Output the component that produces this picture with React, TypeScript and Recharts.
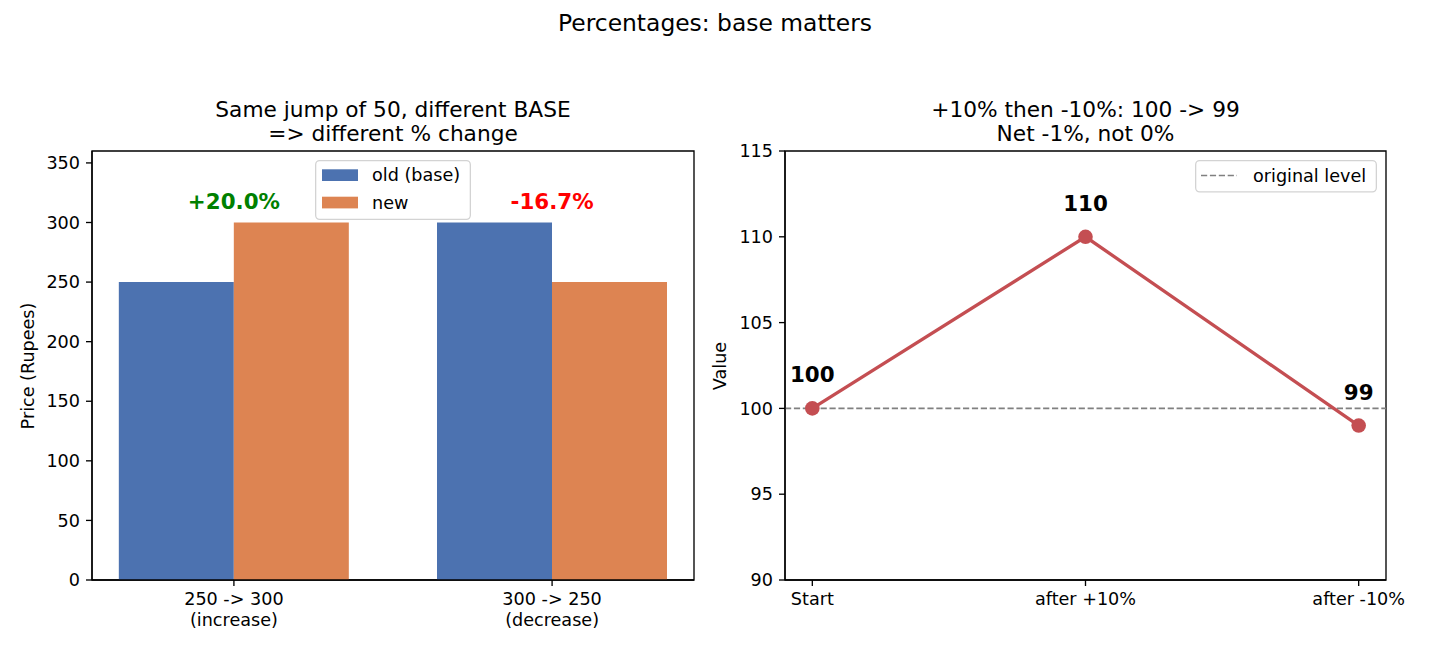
import React from 'react';
import {
  ComposedChart,
  Bar,
  Line,
  XAxis,
  YAxis,
  Legend,
  ReferenceDot,
  ReferenceLine,
  ReferenceArea,
  LabelList,
} from 'recharts';

const FONT = "'DejaVu Sans', 'Liberation Sans', sans-serif";

// ---- Left panel: same jump of 50 on two different bases ----
const pairLabels = [
  ['250 -> 300', '(increase)'],
  ['300 -> 250', '(decrease)'],
];
const oldPrices = [250, 300];
const newPrices = [300, 250];
const priceTicks = [0, 50, 100, 150, 200, 250, 300, 350];

// ---- Right panel: +10% followed by -10% ----
const stepLabels = ['Start', 'after +10%', 'after -10%'];
const stepValues = [100, 110, 99];
const originalLevel = 100;
const valueTicks = [90, 95, 100, 105, 110, 115];

const BLUE = '#4C72B0';
const ORANGE = '#DD8452';
const RED = '#C44E52';

const TICK_FONT = 17.6;
const AXIS_STROKE = 1.33;

const barData = oldPrices.map((o, i) => ({ x: i, old: o, new: newPrices[i] }));
const stepData = stepValues.map((v, i) => ({ x: i, value: v }));

const pctLabel = (o: number, n: number) => {
  const p = ((n - o) / o) * 100;
  return `${p >= 0 ? '+' : ''}${p.toFixed(1)}%`;
};

// Multi-line category tick, text centred under the tick mark
const MultiTick = (props: any) => {
  const { x, y, payload, lines } = props;
  const rows: string[] = lines[payload.value] ?? [];
  return (
    <text
      x={x}
      y={y}
      textAnchor="middle"
      fill="#000"
      fontSize={TICK_FONT}
      fontFamily={FONT}
    >
      {rows.map((r, i) => (
        <tspan key={i} x={x} y={y + 13.5 + i * 20.5}>
          {r}
        </tspan>
      ))}
    </text>
  );
};

const BarLegend = () => (
  <svg width={156} height={60} style={{ display: 'block' }}>
    <rect
      x={0.65}
      y={0.65}
      width={154.7}
      height={58.7}
      rx={4}
      fill="rgba(255,255,255,0.8)"
      stroke="#d3d3d3"
      strokeWidth={1.3}
    />
    <rect x={7} y={9.3} width={36} height={11.7} fill={BLUE} />
    <text x={57} y={21.3} fontSize={TICK_FONT} fontFamily={FONT} fill="#000">
      old (base)
    </text>
    <rect x={7} y={36.7} width={36} height={11.7} fill={ORANGE} />
    <text x={57} y={48.5} fontSize={TICK_FONT} fontFamily={FONT} fill="#000">
      new
    </text>
  </svg>
);

const LineLegend = () => (
  <svg width={182} height={33} style={{ display: 'block' }}>
    <rect
      x={0.65}
      y={0.65}
      width={180.7}
      height={31.2}
      rx={4}
      fill="rgba(255,255,255,0.8)"
      stroke="#d3d3d3"
      strokeWidth={1.3}
    />
    <line
      x1={6}
      x2={42}
      y1={15.5}
      y2={15.5}
      stroke="#808080"
      strokeWidth={1.67}
      strokeDasharray="6.2 2.7"
    />
    <text x={58} y={21.8} fontSize={TICK_FONT} fontFamily={FONT} fill="#000">
      original level
    </text>
  </svg>
);

const centered = (cx: number, cy: number, extra: React.CSSProperties = {}): React.CSSProperties => ({
  position: 'absolute',
  left: cx,
  top: cy,
  transform: 'translate(-50%, -50%)',
  whiteSpace: 'nowrap',
  textAlign: 'center',
  color: '#000',
  ...extra,
});

export default function App() {
  return (
    <div
      style={{
        position: 'absolute',
        left: 0,
        top: 0,
        width: 1430,
        height: 650,
        background: '#fff',
        fontFamily: FONT,
        overflow: 'hidden',
      }}
    >
      <div style={centered(715, 23, { fontSize: 23.4, lineHeight: '27px' })}>
        Percentages: base matters
      </div>

      <div style={centered(393, 121.5, { fontSize: 21.7, lineHeight: '24px' })}>
        Same jump of 50, different BASE
        <br />
        =&gt; different % change
      </div>
      <div style={centered(1085.5, 121.5, { fontSize: 21.7, lineHeight: '24px' })}>
        +10% then -10%: 100 -&gt; 99
        <br />
        Net -1%, not 0%
      </div>

      <div
        style={centered(27.5, 365.5, {
          fontSize: TICK_FONT,
          transform: 'translate(-50%, -50%) rotate(-90deg)',
          lineHeight: '20px',
        })}
      >
        Price (Rupees)
      </div>
      <div
        style={centered(720, 365.5, {
          fontSize: TICK_FONT,
          transform: 'translate(-50%, -50%) rotate(-90deg)',
          lineHeight: '20px',
        })}
      >
        Value
      </div>

      {/* Left: grouped bars */}
      <div style={{ position: 'absolute', left: 0, top: 0 }}>
        <ComposedChart
          width={715}
          height={650}
          data={barData}
          margin={{ top: 151, right: 21, bottom: 30, left: 32 }}
          barGap={0}
          barCategoryGap={0}
        >
          <XAxis
            dataKey="x"
            type="number"
            domain={[-0.446, 1.446]}
            allowDataOverflow
            ticks={[0, 1]}
            tickCount={2}
            interval={0}
            height={40}
            tickSize={6}
            tickMargin={5.6}
            axisLine={{ stroke: '#000', strokeWidth: AXIS_STROKE }}
            tickLine={{ stroke: '#000', strokeWidth: AXIS_STROKE }}
            tick={<MultiTick lines={pairLabels} />}
          />
          <YAxis
            type="number"
            domain={[0, 360]}
            allowDataOverflow
            ticks={priceTicks}
            interval={0}
            width={60}
            tickSize={6}
            tickMargin={6}
            axisLine={{ stroke: '#000', strokeWidth: AXIS_STROKE }}
            tickLine={{ stroke: '#000', strokeWidth: AXIS_STROKE }}
            tick={{ fill: '#000', fontSize: TICK_FONT, fontFamily: FONT }}
          />
          <Bar dataKey="old" name="old (base)" fill={BLUE} barSize={115} isAnimationActive={false} />
          <Bar dataKey="new" name="new" fill={ORANGE} barSize={115} isAnimationActive={false} />
          {barData.map((d) => {
            const up = d.new >= d.old;
            return (
              <ReferenceDot
                key={d.x}
                x={d.x}
                y={Math.max(d.old, d.new) + 10}
                r={0}
                shape={(p: any) => (
                  <text
                    x={p.cx}
                    y={p.cy - 2}
                    textAnchor="middle"
                    fontSize={21.4}
                    fontWeight="bold"
                    fontFamily={FONT}
                    fill={up ? '#008000' : '#FF0000'}
                  >
                    {pctLabel(d.old, d.new)}
                  </text>
                )}
              />
            );
          })}
          <ReferenceArea
            x1={-0.446}
            x2={1.446}
            y1={0}
            y2={360}
            fill="none"
            stroke="#000"
            strokeWidth={AXIS_STROKE}
            ifOverflow="visible"
          />
          <Legend
            layout="vertical"
            align="center"
            verticalAlign="middle"
            content={() => <BarLegend />}
            wrapperStyle={{ left: 315, top: 160, width: 156, height: 60 }}
          />
        </ComposedChart>
      </div>

      {/* Right: value path */}
      <div style={{ position: 'absolute', left: 715, top: 0 }}>
        <ComposedChart
          width={715}
          height={650}
          data={stepData}
          margin={{ top: 151, right: 44, bottom: 30, left: 10 }}
        >
          <XAxis
            dataKey="x"
            type="number"
            domain={[-0.1, 2.1]}
            allowDataOverflow
            ticks={[0, 1, 2]}
            interval={0}
            height={40}
            tickSize={6}
            tickMargin={5.6}
            axisLine={{ stroke: '#000', strokeWidth: AXIS_STROKE }}
            tickLine={{ stroke: '#000', strokeWidth: AXIS_STROKE }}
            tick={<MultiTick lines={stepLabels.map((s) => [s])} />}
          />
          <YAxis
            type="number"
            domain={[90, 115]}
            allowDataOverflow
            ticks={valueTicks}
            interval={0}
            width={60}
            tickSize={6}
            tickMargin={6}
            axisLine={{ stroke: '#000', strokeWidth: AXIS_STROKE }}
            tickLine={{ stroke: '#000', strokeWidth: AXIS_STROKE }}
            tick={{ fill: '#000', fontSize: TICK_FONT, fontFamily: FONT }}
          />
          <ReferenceLine
            y={originalLevel}
            stroke="#808080"
            strokeWidth={1.67}
            strokeDasharray="6.2 2.7"
          />
          <Line
            dataKey="value"
            type="linear"
            stroke={RED}
            strokeWidth={3.3}
            dot={{ r: 7.3, fill: RED, stroke: RED, strokeWidth: 0 }}
            activeDot={false}
            isAnimationActive={false}
          >
            <LabelList
              dataKey="value"
              content={(p: any) => {
                const x = p.x ?? p.viewBox?.x;
                const y = p.y ?? p.viewBox?.y;
                return (
                  <text
                    x={x}
                    y={y - 26}
                    textAnchor="middle"
                    fontSize={21.4}
                    fontWeight="bold"
                    fontFamily={FONT}
                    fill="#000"
                  >
                    {p.value}
                  </text>
                );
              }}
            />
          </Line>
          <ReferenceArea
            x1={-0.1}
            x2={2.1}
            y1={90}
            y2={115}
            fill="none"
            stroke="#000"
            strokeWidth={AXIS_STROKE}
            ifOverflow="visible"
          />
          <Legend
            layout="vertical"
            align="center"
            verticalAlign="middle"
            content={() => <LineLegend />}
            wrapperStyle={{ left: 480, top: 160, width: 182, height: 33 }}
          />
        </ComposedChart>
      </div>
    </div>
  );
}
